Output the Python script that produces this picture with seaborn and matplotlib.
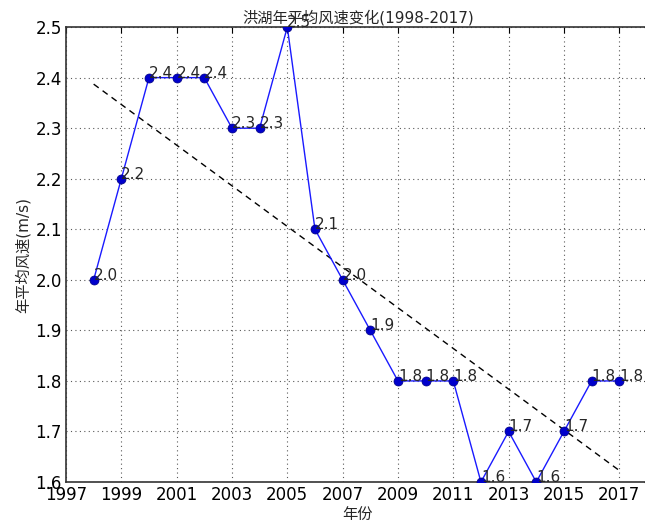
import numpy as np
import pandas as pd
import matplotlib
matplotlib.use('Agg')
import matplotlib.pyplot as plt
import seaborn as sns

years = [1998, 1999, 2000, 2001, 2002, 2003, 2004, 2005, 2006, 2007,
         2008, 2009, 2010, 2011, 2012, 2013, 2014, 2015, 2016, 2017]
wind_speed = [2.0, 2.2, 2.4, 2.4, 2.4, 2.3, 2.3, 2.5, 2.1, 2.0,
              1.9, 1.8, 1.8, 1.8, 1.6, 1.7, 1.6, 1.7, 1.8, 1.8]
x_ticks = list(range(1997, 2018, 2))
y_ticks = [1.6, 1.7, 1.8, 1.9, 2.0, 2.1, 2.2, 2.3, 2.4, 2.5]

sns.set_style('white', {
    'axes.edgecolor': '#333333',
    'xtick.direction': 'in',
    'ytick.direction': 'in',
    'xtick.top': True,
    'ytick.right': True,
})
plt.rcParams['font.family'] = ['DejaVu Sans', 'Noto Sans CJK SC']
plt.rcParams['axes.unicode_minus'] = False

df = pd.DataFrame({'year': years, 'speed': wind_speed})
# linear trend line
coef = np.polyfit(df['year'], df['speed'], 1)
df['trend'] = np.polyval(coef, df['year'])

fig = plt.figure(figsize=(6.45, 5.29), dpi=100)
ax = fig.add_axes([0.1023, 0.0888, 0.905, 0.860])

sns.lineplot(data=df, x='year', y='speed', ax=ax, color='#1a1aff', linewidth=1,
             marker='o', markersize=6.5, markerfacecolor='#0000cc',
             markeredgecolor='#000080', markeredgewidth=0.5, zorder=3)
sns.lineplot(data=df, x='year', y='trend', ax=ax, color='black', linewidth=1,
             linestyle='--')
ax.lines[-1].set_dashes((4.5, 3.5))

for x, y in zip(years, wind_speed):
    ax.text(x, y, '%.1f' % y, fontsize=11, ha='left', va='baseline')

ax.set_xlim(1997, 2018.1)
ax.set_ylim(1.6, 2.5)
ax.set_xticks(x_ticks)
ax.set_yticks(y_ticks)
ax.tick_params(labelsize=12, length=4, width=0.8, pad=3, colors='black')
ax.grid(True, color='0.35', linewidth=0.8, linestyle=(0, (1, 3)))
for s in ax.spines.values():
    s.set_linewidth(1.2)

ax.set_title('洪湖年平均风速变化(1998-2017)', fontsize=11, pad=3)
ax.set_xlabel('年份', fontsize=11, labelpad=2)
ax.set_ylabel('年平均风速(m/s)', fontsize=11, labelpad=3)

fig.savefig('out.png', dpi=100)
